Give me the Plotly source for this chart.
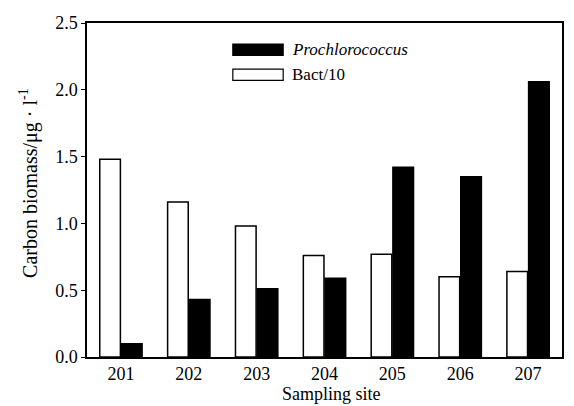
import plotly.graph_objects as go

sites = ["201", "202", "203", "204", "205", "206", "207"]
bact10 = [1.48, 1.16, 0.98, 0.76, 0.77, 0.60, 0.64]
prochlorococcus = [0.10, 0.43, 0.51, 0.59, 1.42, 1.35, 2.06]
y_ticks = [0.0, 0.5, 1.0, 1.5, 2.0, 2.5]

FONT = "Liberation Serif, Times New Roman, serif"

fig = go.Figure()
fig.add_trace(go.Bar(x=sites, y=bact10, name="Bact/10",
                     marker=dict(color="white", line=dict(color="black", width=1.5)),
                     showlegend=False))
fig.add_trace(go.Bar(x=sites, y=prochlorococcus, name="Prochlorococcus",
                     marker=dict(color="black", line=dict(color="black", width=1.5)),
                     showlegend=False))

# manual legend (wide swatches like the reference)
legend_items = [("<i>Prochlorococcus</i>", "black"), ("Bact/10", "white")]
for i, (label, col) in enumerate(legend_items):
    y0 = 0.92 - i * 0.075
    fig.add_shape(type="rect", xref="paper", yref="paper",
                  x0=0.307, x1=0.413, y0=y0 - 0.017, y1=y0 + 0.017,
                  fillcolor=col, line=dict(color="black", width=1.2))
    fig.add_annotation(xref="paper", yref="paper", x=0.428, y=y0,
                       text=label, showarrow=False, xanchor="left", yanchor="middle",
                       font=dict(family=FONT, size=17, color="black"))

# axis titles as annotations for exact placement
fig.add_annotation(xref="paper", yref="paper", x=0.515, y=-0.143,
                   text="Sampling site", showarrow=False,
                   xanchor="center", yanchor="bottom", borderpad=0,
                   font=dict(family=FONT, size=18, color="black"))
fig.add_annotation(xref="paper", yref="paper", x=-0.123, y=0.52,
                   text="Carbon biomass/μg · l<sup>-1</sup>", showarrow=False,
                   textangle=-90, xanchor="center", yanchor="middle",
                   font=dict(family=FONT, size=20, color="black"))

fig.update_layout(
    width=574, height=406,
    margin=dict(l=87, r=12, t=23, b=49),
    paper_bgcolor="white", plot_bgcolor="white",
    barmode="group", bargap=0.36, bargroupgap=0.05,
    font=dict(family=FONT, size=18, color="black"),
    xaxis=dict(automargin=False,
               showline=True, linecolor="black", linewidth=1.5, mirror=True,
               ticks="", showgrid=False, tickfont=dict(size=18)),
    yaxis=dict(automargin=False,
               range=[0, 2.5], tickvals=y_ticks, tickformat=".1f",
               showline=True, linecolor="black", linewidth=1.5, mirror=True,
               ticks="outside", ticklen=4, tickcolor="black",
               showgrid=False, zeroline=False, tickfont=dict(size=18)),
)

fig.write_html("out.html")
